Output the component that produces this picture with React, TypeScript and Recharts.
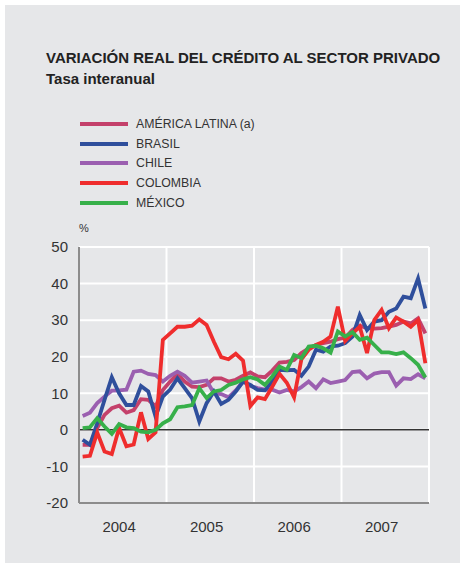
import React from 'react';
import { LineChart, Line, XAxis, YAxis, CartesianGrid, ReferenceLine } from 'recharts';

const years = ['2004', '2005', '2006', '2007'];
const yTicks = [-20, -10, 0, 10, 20, 30, 40, 50];

const americaLatina = [
  -4.1, -4.1, 0.5, 4.1, 5.9, 6.6, 4.7, 5.4, 8.4, 8.2, 6.4, 10.9,
  13.2, 15.3, 13.2, 11.8, 11.7, 12.3, 14.1, 14.1, 13.2, 13.7, 14.8, 15.7,
  14.6, 14.4, 16.2, 18.4, 18.6, 19.1, 21.0, 22.3, 23.2, 23.7, 24.1, 24.8,
  25.2, 27.3, 28.5, 27.8, 27.7, 27.8, 28.2, 28.7, 29.6, 29.1, 30.5, 26.4,
];
const brasil = [
  -2.7, -4.1, 1.8, 8.2, 14.4, 10.0, 6.8, 6.8, 12.0, 10.5, 3.6, 9.1,
  11.0, 14.1, 11.4, 8.7, 2.3, 7.3, 10.5, 7.1, 8.2, 10.5, 13.2, 12.3,
  10.9, 10.8, 13.2, 16.4, 16.3, 16.4, 14.8, 17.3, 21.9, 21.4, 22.8, 23.0,
  23.7, 25.5, 31.4, 27.3, 29.6, 30.0, 32.3, 33.2, 36.4, 36.0, 41.4, 33.2,
];
const chile = [
  3.8, 4.7, 7.3, 9.1, 10.7, 10.8, 11.0, 15.9, 16.2, 15.3, 15.0, 13.2,
  14.8, 15.9, 14.8, 12.9, 13.2, 13.5, 10.0, 9.8, 8.9, 10.8, 13.2, 12.0,
  11.4, 11.0, 11.0, 10.2, 10.9, 10.5, 11.7, 13.2, 11.4, 13.8, 12.8, 13.2,
  13.6, 15.8, 16.0, 14.1, 15.4, 15.8, 15.8, 12.1, 14.1, 13.9, 15.2, 14.1,
];
const colombia = [
  -7.3, -7.1, -0.7, -5.9, -6.6, 0.5, -4.5, -4.0, 4.8, -2.5, -0.7, 24.6,
  26.4, 28.2, 28.2, 28.5, 30.2, 28.7, 24.1, 19.9, 19.3, 20.8, 18.9, 6.5,
  8.9, 8.4, 11.8, 15.3, 12.9, 8.9, 19.3, 21.9, 23.2, 24.1, 25.5, 33.7,
  24.3, 26.4, 28.2, 21.0, 30.0, 32.8, 27.8, 30.7, 29.6, 28.2, 30.0, 18.2,
];
const mexico = [
  0.5, 0.7, 3.2, 0.9, -1.1, 1.6, 0.7, 0.5, -0.5, -0.7, 0.0, 1.8,
  2.9, 6.2, 6.4, 6.8, 11.4, 8.7, 10.5, 10.9, 12.3, 12.9, 13.8, 14.4,
  13.8, 12.3, 14.6, 17.3, 16.4, 20.5, 19.6, 22.8, 23.0, 22.3, 21.1, 26.9,
  25.5, 26.7, 24.6, 25.2, 23.2, 21.2, 21.2, 20.7, 21.2, 19.6, 17.8, 14.3,
];

const series = [
  { key: 'al', name: 'AMÉRICA LATINA (a)', color: '#c4416b', values: americaLatina },
  { key: 'br', name: 'BRASIL', color: '#2f4f9c', values: brasil },
  { key: 'cl', name: 'CHILE', color: '#9b5fb0', values: chile },
  { key: 'co', name: 'COLOMBIA', color: '#ef2d2d', values: colombia },
  { key: 'mx', name: 'MÉXICO', color: '#37b04a', values: mexico },
];
const drawOrder = ['al', 'cl', 'br', 'co', 'mx'];

const data = americaLatina.map((_, i) => {
  const row: Record<string, number> = { x: i + 0.5 };
  series.forEach((s) => { row[s.key] = s.values[i]; });
  return row;
});

const font = '"Liberation Sans", Arial, Helvetica, sans-serif';
const textColor = '#333333';

export default function App() {
  return (
    <div style={{ position: 'absolute', left: 0, top: 0, width: 465, height: 568, background: '#ffffff', fontFamily: font }}>
      <div style={{ position: 'absolute', left: 5, top: 5, width: 455, height: 558, background: '#e6e7e9' }} />
      <div style={{ position: 'absolute', left: 46, top: 48, fontSize: 15, fontWeight: 'bold', color: '#222', whiteSpace: 'nowrap', lineHeight: '20px' }}>
        VARIACIÓN REAL DEL CRÉDITO AL SECTOR PRIVADO
      </div>
      <div style={{ position: 'absolute', left: 46, top: 69, fontSize: 15, fontWeight: 'bold', color: '#222', whiteSpace: 'nowrap', lineHeight: '20px' }}>
        Tasa interanual
      </div>
      {series.map((s, i) => (
        <div key={s.key} style={{ position: 'absolute', left: 80, top: 114 + i * 19.7, height: 20, display: 'flex', alignItems: 'center' }}>
          <div style={{ width: 48, height: 4, background: s.color }} />
          <div style={{ marginLeft: 8, fontSize: 12.3, color: textColor, whiteSpace: 'nowrap' }}>{s.name}</div>
        </div>
      ))}
      <div style={{ position: 'absolute', left: 79, top: 222, fontSize: 11, color: textColor }}>%</div>
      <div style={{ position: 'absolute', left: 0, top: 0 }}>
        <LineChart width={465} height={568} data={data} margin={{ top: 247, right: 36, left: 0, bottom: 35 }}>
          <CartesianGrid vertical={false} stroke="#ffffff" strokeWidth={2} strokeDasharray="" />
          {[12, 24, 36, 48].map((v) => (
            <ReferenceLine key={v} x={v} stroke="#ffffff" strokeWidth={2} />
          ))}
          <ReferenceLine y={0} stroke="#333333" strokeWidth={1.5} />
          <XAxis
            type="number"
            dataKey="x"
            domain={[0, 48]}
            ticks={[5.5, 17.5, 29.5, 41.5]}
            tickFormatter={(v: number) => years[Math.floor(v / 12)]}
            interval={0}
            height={30}
            tickLine={false}
            tickSize={0}
            tickMargin={18}
            axisLine={{ stroke: '#8c8c8c', strokeWidth: 2 }}
            tick={{ fill: textColor, fontSize: 15, fontFamily: font }}
            allowDataOverflow
          />
          <YAxis
            type="number"
            domain={[-20, 50]}
            ticks={yTicks}
            interval={0}
            width={79}
            tickLine={false}
            tickSize={0}
            tickMargin={11}
            axisLine={{ stroke: '#8c8c8c', strokeWidth: 2 }}
            tick={{ fill: textColor, fontSize: 15, fontFamily: font }}
            allowDataOverflow
          />
          {drawOrder.map((k) => {
            const s = series.find((q) => q.key === k)!;
            return (
              <Line
                key={k}
                type="linear"
                dataKey={k}
                stroke={s.color}
                strokeWidth={3.8}
                dot={false}
                activeDot={false}
                isAnimationActive={false}
              />
            );
          })}
        </LineChart>
      </div>
    </div>
  );
}
